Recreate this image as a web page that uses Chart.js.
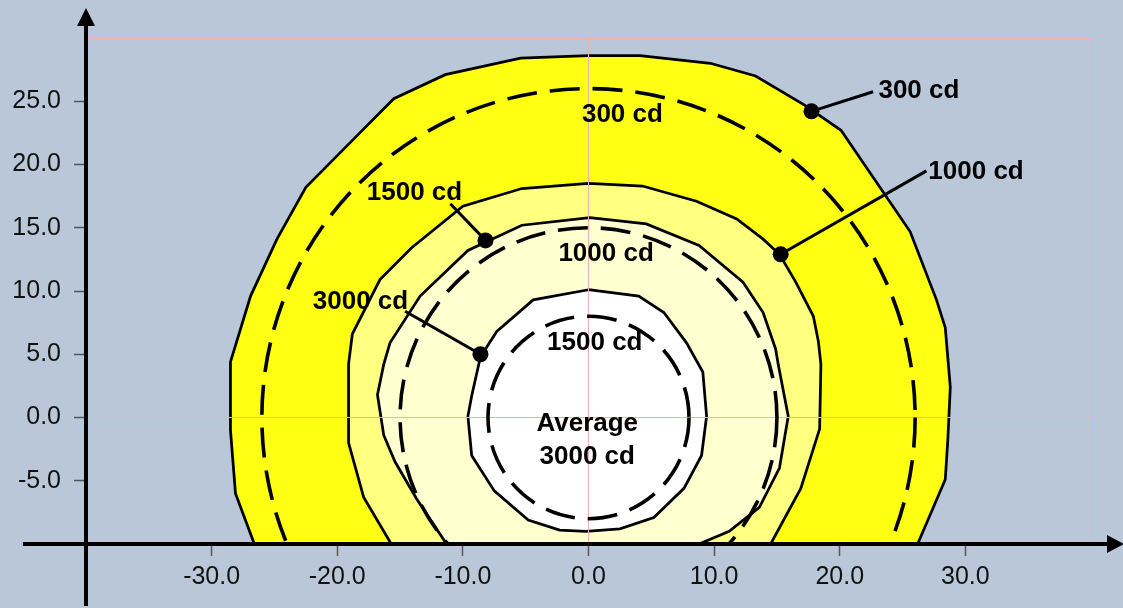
<!DOCTYPE html>
<html>
<head>
<meta charset="utf-8">
<script src="https://cdn.jsdelivr.net/npm/chart.js@4.4.1/dist/chart.umd.min.js"></script>
<style>
  html, body { margin: 0; padding: 0; background: #B9C7D8; }
  #wrap { width: 1123px; height: 608px; position: relative; }
</style>
</head>
<body>
<div id="wrap"><canvas id="chart"></canvas></div>
<script>
/* ============ DATA ============ */
// iso-candela contours as [x, y]; the bottom edge sits on the y = -10 axis
const ring300 = [
  [-26.6, -10], [-28.1, -6.0], [-28.5, -1.0], [-28.5, 4.4], [-26.9, 9.6], [-24.8, 14.1],
  [-22.5, 18.2], [-18.4, 22.3], [-15.5, 25.2], [-11.4, 27.1], [-5.4, 28.4], [0, 28.6],
  [4.1, 28.6], [9.7, 28.0], [13.3, 27.0], [17.2, 24.7], [20.1, 22.7], [25.6, 14.7],
  [27.7, 9.3], [28.4, 7.1], [28.8, 2.4], [28.6, -1.8], [28.4, -4.9], [26.2, -10]
];
const ring1000 = [
  [-15.7, -10], [-17.9, -6.3], [-19.1, -2.0], [-19.1, 4.2], [-18.8, 6.6], [-16.6, 10.9],
  [-14.1, 13.4], [-10.0, 16.7], [-5.3, 18.1], [0, 18.5], [4.3, 18.3], [8.6, 17.1],
  [11.8, 15.7], [13.9, 14.1], [15.2, 12.9], [16.5, 10.7], [17.9, 8.0], [18.3, 6.0],
  [18.5, 4.2], [18.4, -0.9], [16.9, -5.6], [14.5, -10]
];
const ring1500 = [
  [-11.3, -10], [-13.7, -6.4], [-15.4, -3.5], [-16.3, -1.4], [-16.8, 1.8], [-16.3, 4.2],
  [-15.8, 5.9], [-13.4, 9.6], [-9.6, 13.2], [-5.3, 15.2], [0.1, 15.8], [4.6, 15.3],
  [8.8, 13.6], [12.3, 10.7], [13.9, 8.3], [14.9, 5.4], [15.1, 4.2], [15.9, 0.1],
  [15.2, -4.0], [13.6, -7.1], [11.2, -9.0], [8.8, -10]
];
const ring3000 = [
  [0, 10.1], [4.0, 9.6], [6.0, 8.3], [7.8, 5.9], [9.1, 3.6], [9.4, 0.1], [9.0, -3.0],
  [7.6, -5.6], [5.2, -7.9], [2.5, -8.8], [-0.2, -9.0], [-2.3, -8.9], [-4.8, -8.1],
  [-7.5, -5.8], [-9.3, -3.0], [-9.6, 0.1], [-9.3, 1.7], [-8.6, 4.8], [-7.3, 6.8], [-4.4, 9.3]
];

// dashed average circles (300, 1000, 1500 cd), radius
const avgRadius = [26, 15, 8];

// callouts: dot on contour -> end of leader line -> label centre
const calloutText = ['300 cd', '1000 cd', '1500 cd', '3000 cd'];
const calloutDot = [[17.75, 24.2], [15.3, 12.9], [-8.2, 14.0], [-8.6, 5.0]];
const calloutEnd = [[22.65, 25.75], [26.9, 19.5], [-11.0, 16.9], [-14.6, 8.4]];
const calloutAt = [[26.3, 25.85], [30.85, 19.4], [-13.85, 17.75], [-18.15, 9.15]];

// labels inside the dashed circles
const innerText = ['300 cd', '1000 cd', '1500 cd', 'Average', '3000 cd'];
const innerAt = [[2.7, 23.9], [1.4, 12.9], [0.5, 5.9], [-0.1, -0.5], [-0.1, -3.1]];

const xTicksShown = [-30, -20, -10, 0, 10, 20, 30];
const yTicksShown = [-5, 0, 5, 10, 15, 20, 25];

/* ============ HELPERS ============ */
const pts = arr => arr.map(([x, y]) => ({ x, y }));
const closed = arr => pts([...arr, arr[0]]);
const PINK = '#EDB0B4';

const ring = (data, color, order) => ({
  data: closed(data),
  borderColor: '#000',
  borderWidth: 2.75,
  backgroundColor: color,
  fill: 'shape',
  tension: 0,
  pointRadius: 0,
  order
});

/* ============ OVERLAY: circles, text, axes ============ */
const overlay = {
  id: 'overlay',
  afterDraw(chart) {
    const { ctx, chartArea: a, scales: { x, y } } = chart;
    const cx = x.getPixelForValue(0), cy = y.getPixelForValue(0);

    ctx.save();
    ctx.beginPath();
    ctx.rect(a.left, a.top, a.right - a.left, a.bottom - a.top);
    ctx.clip();
    ctx.setLineDash([30, 13]);
    ctx.lineWidth = 3.6;
    ctx.strokeStyle = '#000';
    avgRadius.forEach(r => {
      ctx.beginPath();
      ctx.ellipse(cx, cy, x.getPixelForValue(r) - cx, cy - y.getPixelForValue(r), 0, 0, Math.PI * 2);
      ctx.stroke();
    });
    ctx.restore();

    ctx.save();
    ctx.fillStyle = '#000';
    ctx.font = "bold 26px 'Liberation Sans', Arial, sans-serif";
    ctx.textAlign = 'center';
    ctx.textBaseline = 'middle';
    calloutText.forEach((t, i) => ctx.fillText(t, x.getPixelForValue(calloutAt[i][0]), y.getPixelForValue(calloutAt[i][1])));
    innerText.forEach((t, i) => ctx.fillText(t, x.getPixelForValue(innerAt[i][0]), y.getPixelForValue(innerAt[i][1])));

    // axes with arrowheads, running past the plot area
    const ax = x.getPixelForValue(-40), ay = y.getPixelForValue(-10);
    ctx.strokeStyle = '#000';
    ctx.lineWidth = 4;
    ctx.beginPath(); ctx.moveTo(ax, chart.height - 2); ctx.lineTo(ax, 24); ctx.stroke();
    ctx.beginPath(); ctx.moveTo(23, ay); ctx.lineTo(chart.width - 14, ay); ctx.stroke();
    ctx.beginPath(); ctx.moveTo(ax, 8); ctx.lineTo(ax - 9, 26); ctx.lineTo(ax + 9, 26); ctx.closePath(); ctx.fill();
    ctx.beginPath(); ctx.moveTo(chart.width + 1, ay); ctx.lineTo(chart.width - 16, ay - 9); ctx.lineTo(chart.width - 16, ay + 9); ctx.closePath(); ctx.fill();
    ctx.restore();
  }
};

/* ============ CHART ============ */
const callouts = calloutDot.map((d, i) => ({
  data: pts([d, calloutEnd[i]]),
  borderColor: '#000',
  borderWidth: 3,
  backgroundColor: '#000',
  fill: false,
  pointRadius: [8, 0],
  pointBorderWidth: 0,
  order: 0
}));

const tickFont = { family: "'Liberation Sans', Arial, sans-serif", size: 25 };

new Chart(document.getElementById('chart'), {
  type: 'line',
  data: {
    datasets: [
      ...callouts,
      ring(ring3000, '#FFFFFF', 1),
      ring(ring1500, '#FFFFD0', 2),
      ring(ring1000, '#FFFF80', 3),
      ring(ring300, '#FFFF14', 4)
    ]
  },
  options: {
    responsive: true, maintainAspectRatio: false,
    animation: false,
    layout: { padding: { left: 0, right: 32, top: 38, bottom: 0 } },
    plugins: { legend: { display: false }, tooltip: { enabled: false } },
    scales: {
      x: {
        type: 'linear', min: -40, max: 40,
        afterFit: s => { s.height = 64; },
        border: { display: false },
        grid: {
          z: 1,
          lineWidth: 1,
          color: c => (c.tick.value === 0 || c.tick.value === 40) ? PINK : 'transparent',
          tickColor: c => xTicksShown.includes(c.tick.value) ? '#555' : 'transparent',
          tickLength: 12, tickWidth: 1.5
        },
        ticks: {
          stepSize: 10, padding: 6, color: '#111', font: tickFont, maxRotation: 0,
          callback: v => xTicksShown.includes(v) ? v.toFixed(1) : ''
        }
      },
      y: {
        type: 'linear', min: -10, max: 30,
        afterFit: s => { s.width = 86; },
        border: { display: false },
        grid: {
          z: 1,
          lineWidth: 1,
          color: c => (c.tick.value === 0 || c.tick.value === 30) ? PINK : 'transparent',
          tickColor: c => yTicksShown.includes(c.tick.value) ? '#555' : 'transparent',
          tickLength: 12, tickWidth: 1.5
        },
        ticks: {
          stepSize: 5, padding: 13, color: '#111', font: tickFont,
          callback: v => yTicksShown.includes(v) ? v.toFixed(1) : ''
        }
      }
    }
  },
  plugins: [overlay]
});
</script>
</body>
</html>
